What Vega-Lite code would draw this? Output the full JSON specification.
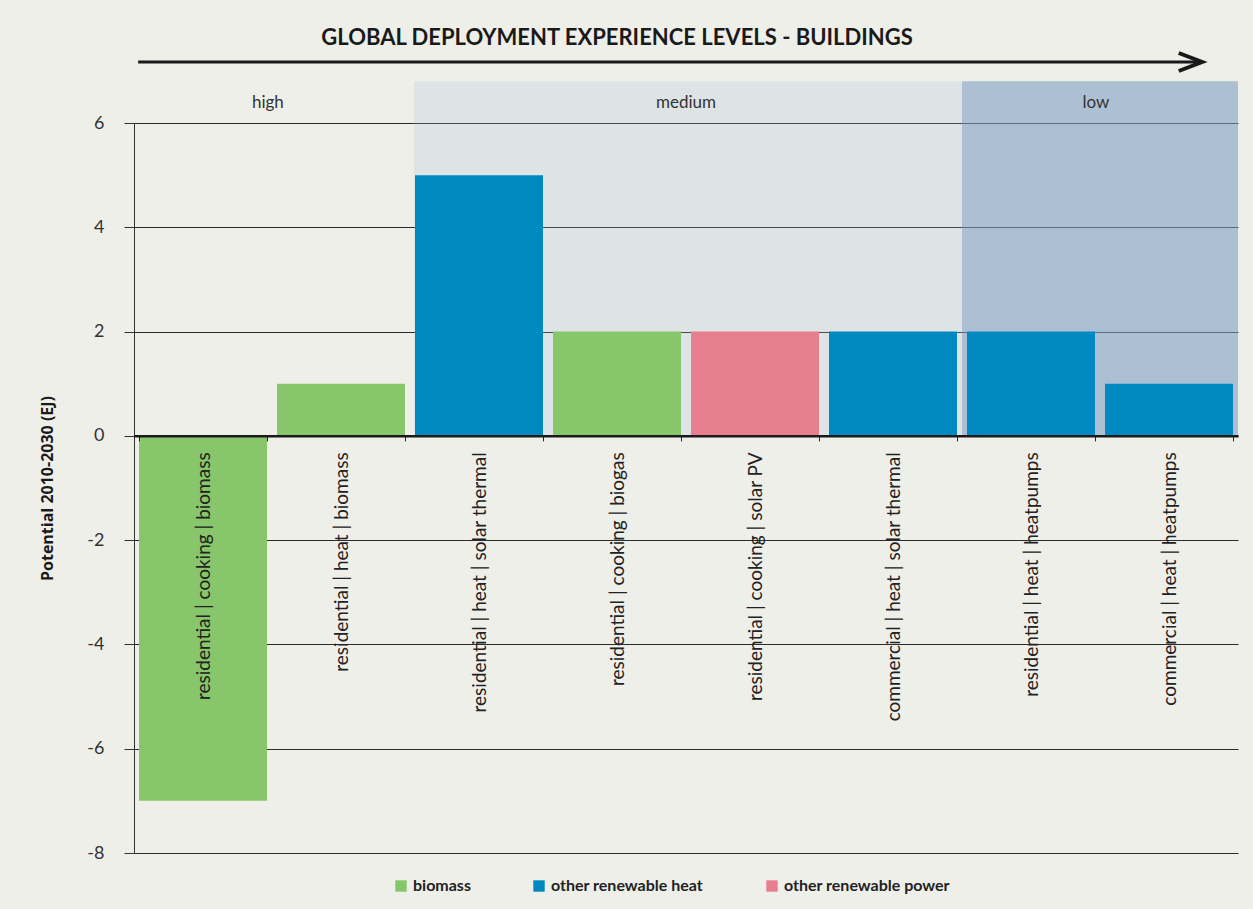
{
  "$schema": "https://vega.github.io/schema/vega-lite/v6.json",
  "width": 1104,
  "height": 730,
  "autosize": {"type": "none"},
  "padding": {"left": 134, "top": 123, "right": 15, "bottom": 56},
  "background": "#efefea",
  "config": {"view": {"stroke": null}, "font": "Lato"},
  "title": {
    "text": "GLOBAL DEPLOYMENT EXPERIENCE LEVELS -  BUILDINGS",
    "frame": "group",
    "anchor": "middle",
    "dx": -69,
    "offset": 8,
    "dy": 30,
    "baseline": "alphabetic",
    "font": "Lato",
    "fontSize": 22,
    "fontWeight": "bold",
    "color": "#1a1a1a"
  },
  "datasets": {
    "bars": [
      {"category": "residential | cooking | biomass", "value": -7, "type": "biomass"},
      {"category": "residential | heat | biomass", "value": 1, "type": "biomass"},
      {"category": "residential | heat | solar thermal", "value": 5, "type": "other renewable heat"},
      {"category": "residential | cooking | biogas", "value": 2, "type": "biomass"},
      {"category": "residential | cooking | solar PV", "value": 2, "type": "other renewable power"},
      {"category": "commercial | heat | solar thermal", "value": 2, "type": "other renewable heat"},
      {"category": "residential | heat | heatpumps", "value": 2, "type": "other renewable heat"},
      {"category": "commercial | heat | heatpumps", "value": 1, "type": "other renewable heat"}
    ],
    "levels": [
      {"level": "high", "start": 0, "end": 2, "mid": 0.97},
      {"level": "medium", "start": 2.03, "end": 6, "mid": 4},
      {"level": "low", "start": 6, "end": 8, "mid": 6.97}
    ]
  },
  "resolve": {"scale": {"x": "independent"}},
  "layer": [
    {
      "data": {"name": "levels"},
      "transform": [{"filter": "datum.level == 'medium'"}],
      "mark": {"type": "rect", "color": "#a9bdd2", "opacity": 0.23},
      "encoding": {
        "x": {"field": "start", "type": "quantitative", "scale": {"domain": [0, 8], "nice": false, "zero": false}, "axis": null},
        "x2": {"field": "end"},
        "y": {"datum": 6.8, "type": "quantitative", "scale": {"domain": [-8, 6], "nice": false}},
        "y2": {"datum": 0}
      }
    },
    {
      "data": {"name": "levels"},
      "transform": [{"filter": "datum.level == 'low'"}],
      "mark": {"type": "rect", "color": "#7e9fc3", "opacity": 0.58},
      "encoding": {
        "x": {"field": "start", "type": "quantitative", "scale": {"domain": [0, 8], "nice": false, "zero": false}, "axis": null},
        "x2": {"field": "end"},
        "y": {"datum": 6.8, "type": "quantitative", "scale": {"domain": [-8, 6], "nice": false}},
        "y2": {"datum": 0}
      }
    },
    {
      "data": {"name": "levels"},
      "mark": {"type": "text", "font": "Lato", "fontSize": 17, "color": "#333333", "baseline": "middle", "align": "center"},
      "encoding": {
        "x": {"field": "mid", "type": "quantitative", "scale": {"domain": [0, 8], "nice": false, "zero": false}, "axis": null},
        "y": {"datum": 6.38, "type": "quantitative", "scale": {"domain": [-8, 6], "nice": false}},
        "text": {"field": "level"}
      }
    },
    {
      "data": {"values": [{"note": "experience arrow"}]},
      "mark": {"type": "rule", "color": "#1a1a1a", "strokeWidth": 3},
      "encoding": {
        "x": {"datum": 0.03, "type": "quantitative", "scale": {"domain": [0, 8], "nice": false, "zero": false}, "axis": null},
        "x2": {"datum": 7.73},
        "y": {"datum": 7.17, "type": "quantitative", "scale": {"domain": [-8, 6], "nice": false}}
      }
    },
    {
      "data": {"values": [{"note": "experience arrow"}]},
      "mark": {"type": "point", "shape": "M-2.6,-1L0,0L-2.6,1", "filled": false, "size": 324, "color": "#1a1a1a", "strokeWidth": 4, "opacity": 1, "strokeJoin": "miter"},
      "encoding": {
        "x": {"datum": 7.74, "type": "quantitative", "scale": {"domain": [0, 8], "nice": false, "zero": false}, "axis": null},
        "y": {"datum": 7.17, "type": "quantitative", "scale": {"domain": [-8, 6], "nice": false}}
      }
    },
    {
      "data": {"name": "bars"},
      "mark": {"type": "bar"},
      "encoding": {
        "x": {
          "field": "category",
          "type": "nominal",
          "sort": null,
          "scale": {"paddingInner": 0.0725, "paddingOuter": 0.03625},
          "axis": {
            "orient": "bottom",
            "offset": {"expr": "scale('y', 0) - height"},
            "title": null,
            "labelAngle": 270,
            "labelAlign": "right",
            "labelBaseline": "middle",
            "labelPadding": 11,
            "labelLimit": 0,
            "labelFont": "Lato",
            "labelFontSize": 19,
            "labelColor": "#222222",
            "tickBand": "extent",
            "tickSize": 5,
            "tickColor": "#222222",
            "domainColor": "#1a1a1a",
            "domainWidth": 2.5,
            "grid": false,
            "zindex": 1
          }
        },
        "y": {
          "field": "value",
          "type": "quantitative",
          "stack": null,
          "scale": {"domain": [-8, 6], "nice": false},
          "axis": {
            "values": [-8, -6, -4, -2, 0, 2, 4, 6],
            "labelExpr": "'' + datum.value",
            "title": "Potential 2010-2030 (EJ)",
            "titleFont": "Open Sans",
            "titleFontSize": 16,
            "titleFontWeight": "bold",
            "titleColor": "#1a1a1a",
            "titlePadding": 31,
            "labelFont": "Lato",
            "labelFontSize": 18,
            "labelColor": "#333333",
            "labelPadding": 20,
            "tickSize": 10,
            "tickColor": "#333333",
            "domainColor": "#333333",
            "grid": true,
            "gridColor": "#2b2b2b",
            "gridWidth": 1,
            "zindex": 0
          }
        },
        "color": {
          "field": "type",
          "type": "nominal",
          "scale": {
            "domain": ["biomass", "other renewable heat", "other renewable power"],
            "range": ["#87c66a", "#0089c1", "#e77f8f"]
          },
          "legend": {
            "orient": "none",
            "legendX": 259,
            "legendY": 755,
            "direction": "horizontal",
            "title": null,
            "symbolType": "square",
            "symbolSize": 130,
            "symbolStrokeWidth": 0,
            "symbolOpacity": 1,
            "labelFont": "Lato",
            "labelFontSize": 16,
            "labelFontWeight": "bold",
            "labelColor": "#222222",
            "labelLimit": 0,
            "columnPadding": 60
          }
        }
      }
    }
  ]
}
